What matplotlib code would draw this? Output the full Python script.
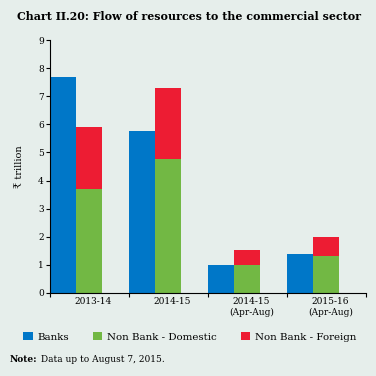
import numpy as np
import matplotlib.pyplot as plt
from matplotlib.ticker import FixedLocator, NullFormatter

# data (₹ trillion)
categories = ['2013-14', '2014-15', '2014-15\n(Apr-Aug)', '2015-16\n(Apr-Aug)']
banks = [7.67, 5.78, 0.99, 1.38]
non_bank_domestic = [3.70, 4.77, 1.00, 1.31]
non_bank_foreign = [2.22, 2.54, 0.53, 0.68]

bg = '#e6eeeb'
c_blue = '#0077c8'
c_green = '#72b844'
c_red = '#ed1c33'

plt.rcParams['font.family'] = ['DejaVu Serif', 'DejaVu Sans']

fig = plt.figure(figsize=(3.76, 3.76), dpi=100, facecolor=bg)
ax = fig.add_axes([50 / 376, 83 / 376, 316 / 376, 253 / 376])
ax.set_facecolor(bg)

x = np.arange(len(categories))
w = 0.33
ax.bar(x - 0.5 + w / 2, banks, w, color=c_blue, label='Banks')
ax.bar(x - 0.5 + 1.5 * w, non_bank_domestic, w, color=c_green, label='Non Bank - Domestic')
ax.bar(x - 0.5 + 1.5 * w, non_bank_foreign, w, bottom=non_bank_domestic,
       color=c_red, label='Non Bank - Foreign')

ax.set_xlim(-0.5, len(categories) - 0.5)
ax.set_ylim(0, 9)
ax.set_yticks(range(0, 10))
ax.tick_params(axis='y', labelsize=6.5, length=3, width=0.8, pad=1.5)

# group boundaries as ticks, labels in the middle of each slot
ax.xaxis.set_major_locator(FixedLocator(np.arange(len(categories) + 1) - 0.5))
ax.xaxis.set_major_formatter(NullFormatter())
ax.xaxis.set_minor_locator(FixedLocator(x + 0.05))
ax.set_xticklabels(categories, minor=True)
ax.tick_params(axis='x', which='major', length=3, width=0.8)
ax.tick_params(axis='x', which='minor', length=0, labelsize=6.5, pad=3)

for s in ['top', 'right']:
    ax.spines[s].set_visible(False)
ax.spines['left'].set_linewidth(0.8)
ax.spines['bottom'].set_linewidth(0.8)

ax.set_ylabel('₹ trillion', fontsize=7, labelpad=10)

fig.text(17 / 376, 1 - 17 / 376, 'Chart II.20: Flow of resources to the commercial sector',
         fontsize=7.9, fontweight='bold', va='center', ha='left')

fig.legend(loc='center left', bbox_to_anchor=(14 / 376, 1 - 337 / 376), ncol=3, frameon=False,
           fontsize=7.4, handlelength=0.9, handleheight=0.8, handletextpad=0.5,
           columnspacing=2.3)

# bold "Note:" followed by plain text
note = fig.text(10 / 376, 1 - 359 / 376, 'Note:', fontsize=6.5, fontweight='bold',
                va='center', ha='left')
ax.annotate(' Data up to August 7, 2015.', xy=(1, 0.5), xycoords=note,
            fontsize=6.5, va='center', ha='left', annotation_clip=False)

fig.savefig('out.png', dpi=100, facecolor=bg)
